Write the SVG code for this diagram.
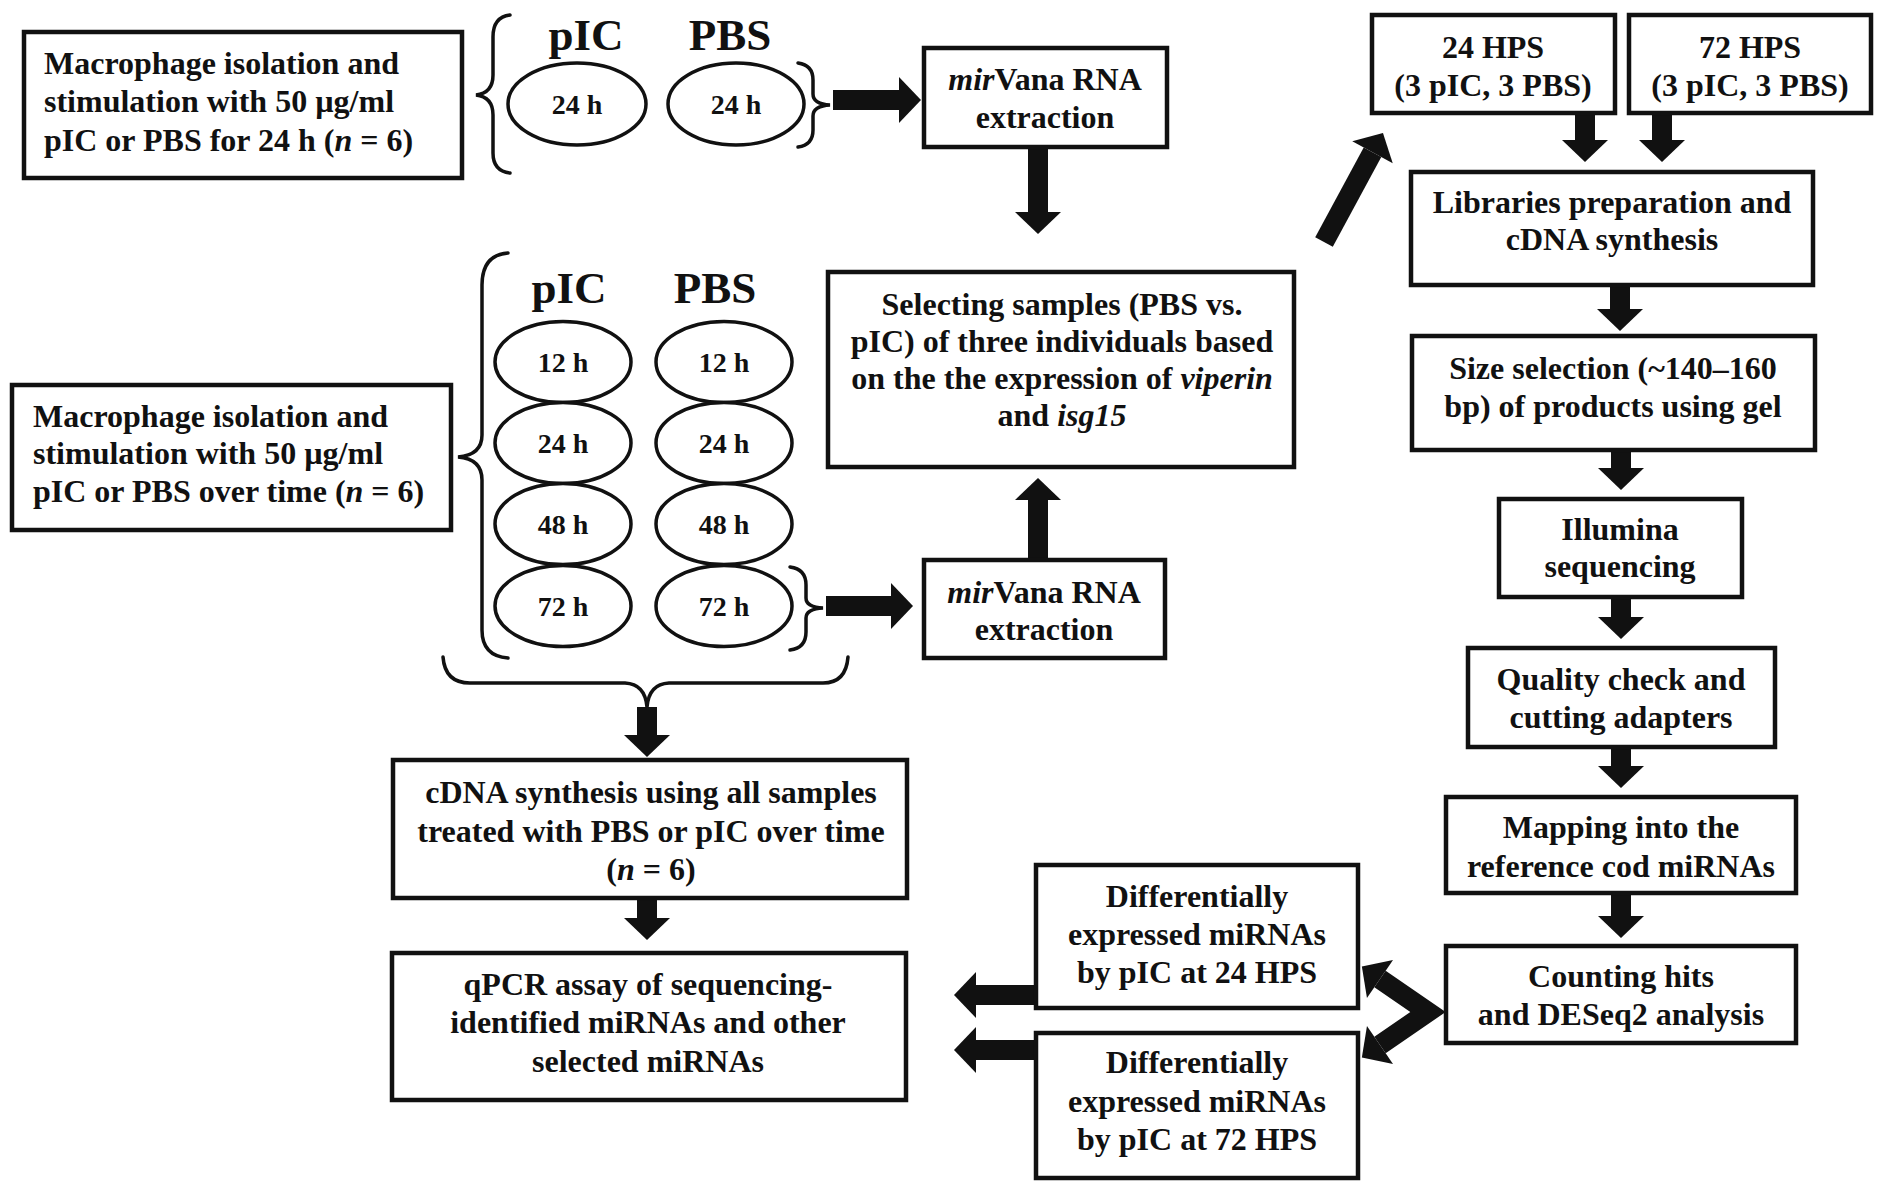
<svg xmlns="http://www.w3.org/2000/svg" width="1881" height="1183" viewBox="0 0 1881 1183">
<style>
.box{fill:#fff;stroke:#111;stroke-width:4.5}
.ell{fill:#fff;stroke:#111;stroke-width:3.5}
.brace{fill:none;stroke:#111;stroke-width:3.5;stroke-linecap:round}
.t{font-family:"Liberation Serif","Times New Roman",serif;font-weight:bold;font-size:32px;fill:#111;text-anchor:middle}
.l{text-anchor:start}
.s{font-size:28px}
.h{font-size:45px}
.i{font-style:italic}
.arr{fill:none;stroke:#111;stroke-width:20;stroke-linejoin:miter;stroke-miterlimit:10}
</style>
<defs>
<marker id="ah" markerUnits="userSpaceOnUse" markerWidth="24" markerHeight="46" refX="0" refY="23" orient="auto-start-reverse" overflow="visible">
<path d="M0,0 L22,23 L0,46 Z" fill="#111"/>
</marker>
</defs>
<rect width="1881" height="1183" fill="#fff"/>

<g id="connectors">
<path class="arr" d="M833,100 L899,100" marker-end="url(#ah)"/>
<path class="arr" d="M1038,147 L1038,212" marker-end="url(#ah)"/>
<path class="arr" d="M826,606 L891,606" marker-end="url(#ah)"/>
<path class="arr" d="M1038,560 L1038,500" marker-end="url(#ah)"/>
<path class="arr" d="M1324,242 L1372.5,152.3" marker-end="url(#ah)"/>
<path class="arr" d="M1585,113 L1585,140" marker-end="url(#ah)"/>
<path class="arr" d="M1662,113 L1662,140" marker-end="url(#ah)"/>
<path class="arr" d="M1620,285 L1620,309" marker-end="url(#ah)"/>
<path class="arr" d="M1621,450 L1621,468" marker-end="url(#ah)"/>
<path class="arr" d="M1621,597 L1621,617" marker-end="url(#ah)"/>
<path class="arr" d="M1621,747 L1621,766" marker-end="url(#ah)"/>
<path class="arr" d="M1621,893 L1621,916" marker-end="url(#ah)"/>
<path class="arr" d="M1380,979 L1428,1012 L1380,1045" marker-start="url(#ah)" marker-end="url(#ah)"/>
<path class="arr" d="M1036,995 L976,995" marker-end="url(#ah)"/>
<path class="arr" d="M1036,1050 L976,1050" marker-end="url(#ah)"/>
<path class="arr" d="M647,707 L647,735" marker-end="url(#ah)"/>
<path class="arr" d="M647,898 L647,918" marker-end="url(#ah)"/>
<path class="brace" d="M510,15 Q493,17 493,37 L493,75 Q493,93 476,95 Q493,97 493,115 L493,153 Q493,171 510,173"/>
<path class="brace" d="M798,63 Q813,65 813,80 L813,94 Q813,104 830,105 Q813,106 813,116 L813,130 Q813,145 798,147"/>
<path class="brace" d="M508,253 Q482,255 482,285 L482,435 Q482,455 458,457 Q482,459 482,480 L482,630 Q482,656 508,658"/>
<path class="brace" d="M790,567 Q806,569 806,585 L806,598 Q806,607 823,608 Q806,609 806,618 L806,632 Q806,648 790,650"/>
<path class="brace" d="M443,657 Q445,683 470,683 L625,683 Q645,684 647,707 Q649,684 669,683 L823,683 Q846,683 848,657"/>
</g>

<g id="box1">
<rect class="box" x="24" y="32" width="438" height="146"/>
<text class="t l" x="44" y="74">Macrophage isolation and</text>
<text class="t l" x="44" y="112">stimulation with 50 µg/ml</text>
<text class="t l" x="44" y="151">pIC or PBS for 24 h (<tspan class="i">n</tspan> = 6)</text>
</g>

<g id="labels-top">
<text class="t h" x="586" y="50">pIC</text>
<text class="t h" x="730" y="50">PBS</text>
</g>
<g id="ell-top-pic"><ellipse class="ell" cx="577" cy="104" rx="69" ry="41"/><text class="t s" x="577" y="114">24 h</text></g>
<g id="ell-top-pbs"><ellipse class="ell" cx="736" cy="104" rx="68" ry="41"/><text class="t s" x="736" y="114">24 h</text></g>

<g id="mirvana1">
<rect class="box" x="924" y="48" width="243" height="99"/>
<text class="t" x="1045" y="90"><tspan class="i">mir</tspan>Vana RNA</text>
<text class="t" x="1045" y="128">extraction</text>
</g>

<g id="hps24">
<rect class="box" x="1372" y="15" width="243" height="98"/>
<text class="t" x="1493" y="58">24 HPS</text>
<text class="t" x="1493" y="96">(3 pIC, 3 PBS)</text>
</g>
<g id="hps72">
<rect class="box" x="1629" y="15" width="242" height="98"/>
<text class="t" x="1750" y="58">72 HPS</text>
<text class="t" x="1750" y="96">(3 pIC, 3 PBS)</text>
</g>

<g id="libraries">
<rect class="box" x="1411" y="172" width="402" height="113"/>
<text class="t" x="1612" y="213">Libraries preparation and</text>
<text class="t" x="1612" y="250">cDNA synthesis</text>
</g>

<g id="size">
<rect class="box" x="1412" y="336" width="403" height="114"/>
<text class="t" x="1613" y="379">Size selection (~140–160</text>
<text class="t" x="1613" y="417">bp) of products using gel</text>
</g>

<g id="illumina">
<rect class="box" x="1499" y="499" width="243" height="98"/>
<text class="t" x="1620" y="540">Illumina</text>
<text class="t" x="1620" y="577">sequencing</text>
</g>

<g id="quality">
<rect class="box" x="1468" y="648" width="307" height="99"/>
<text class="t" x="1621" y="690">Quality check and</text>
<text class="t" x="1621" y="728">cutting adapters</text>
</g>

<g id="mapping">
<rect class="box" x="1446" y="797" width="350" height="96"/>
<text class="t" x="1621" y="838">Mapping into the</text>
<text class="t" x="1621" y="877">reference cod miRNAs</text>
</g>

<g id="counting">
<rect class="box" x="1446" y="946" width="350" height="97"/>
<text class="t" x="1621" y="987">Counting hits</text>
<text class="t" x="1621" y="1025">and DESeq2 analysis</text>
</g>

<g id="diff24">
<rect class="box" x="1036" y="865" width="322" height="143"/>
<text class="t" x="1197" y="907">Differentially</text>
<text class="t" x="1197" y="945">expressed miRNAs</text>
<text class="t" x="1197" y="983">by pIC at 24 HPS</text>
</g>

<g id="diff72">
<rect class="box" x="1036" y="1033" width="322" height="145"/>
<text class="t" x="1197" y="1073">Differentially</text>
<text class="t" x="1197" y="1112">expressed miRNAs</text>
<text class="t" x="1197" y="1150">by pIC at 72 HPS</text>
</g>

<g id="box2">
<rect class="box" x="12" y="385" width="439" height="145"/>
<text class="t l" x="33" y="427">Macrophage isolation and</text>
<text class="t l" x="33" y="464">stimulation with 50 µg/ml</text>
<text class="t l" x="33" y="502">pIC or PBS over time (<tspan class="i">n</tspan> = 6)</text>
</g>

<g id="labels-mid">
<text class="t h" x="569" y="303">pIC</text>
<text class="t h" x="715" y="303">PBS</text>
</g>
<g id="pic12"><ellipse class="ell" cx="563" cy="362" rx="68" ry="40.5"/><text class="t s" x="563" y="372">12 h</text></g>
<g id="pbs12"><ellipse class="ell" cx="724" cy="362" rx="68" ry="40.5"/><text class="t s" x="724" y="372">12 h</text></g>
<g id="pic24"><ellipse class="ell" cx="563" cy="443" rx="68" ry="40.5"/><text class="t s" x="563" y="453">24 h</text></g>
<g id="pbs24"><ellipse class="ell" cx="724" cy="443" rx="68" ry="40.5"/><text class="t s" x="724" y="453">24 h</text></g>
<g id="pic48"><ellipse class="ell" cx="563" cy="524" rx="68" ry="40.5"/><text class="t s" x="563" y="534">48 h</text></g>
<g id="pbs48"><ellipse class="ell" cx="724" cy="524" rx="68" ry="40.5"/><text class="t s" x="724" y="534">48 h</text></g>
<g id="pic72"><ellipse class="ell" cx="563" cy="606" rx="68" ry="40.5"/><text class="t s" x="563" y="616">72 h</text></g>
<g id="pbs72"><ellipse class="ell" cx="724" cy="606" rx="68" ry="40.5"/><text class="t s" x="724" y="616">72 h</text></g>

<g id="selecting">
<rect class="box" x="828" y="272" width="466" height="195"/>
<text class="t" x="1062" y="315">Selecting samples (PBS vs.</text>
<text class="t" x="1062" y="352">pIC) of three individuals based</text>
<text class="t" x="1062" y="389">on the the expression of <tspan class="i">viperin</tspan></text>
<text class="t" x="1062" y="426">and <tspan class="i">isg15</tspan></text>
</g>

<g id="mirvana2">
<rect class="box" x="924" y="560" width="241" height="98"/>
<text class="t" x="1044" y="603"><tspan class="i">mir</tspan>Vana RNA</text>
<text class="t" x="1044" y="640">extraction</text>
</g>

<g id="cdna">
<rect class="box" x="393" y="760" width="514" height="138"/>
<text class="t" x="651" y="803">cDNA synthesis using all samples</text>
<text class="t" x="651" y="842">treated with PBS or pIC over time</text>
<text class="t" x="651" y="880">(<tspan class="i">n</tspan> = 6)</text>
</g>

<g id="qpcr">
<rect class="box" x="392" y="953" width="514" height="147"/>
<text class="t" x="648" y="995">qPCR assay of sequencing-</text>
<text class="t" x="648" y="1033">identified miRNAs and other</text>
<text class="t" x="648" y="1072">selected miRNAs</text>
</g>
</svg>
